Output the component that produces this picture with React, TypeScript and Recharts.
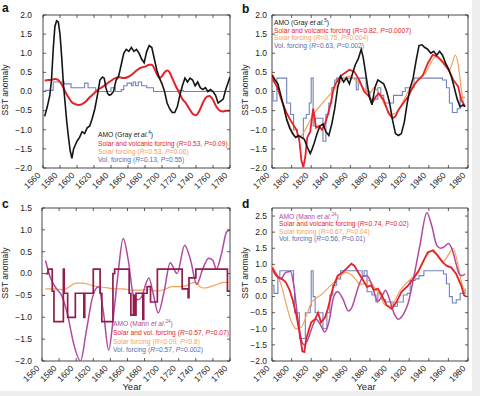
import React from 'react'
import { LineChart, Line, XAxis, YAxis, ReferenceArea } from 'recharts'

type Pt = [number, number]

// panel a, 1560-1780
const aAmo: Pt[] = [
  [1562, -0.65], [1565, -0.4], [1568, -0.1], [1570, 0.3], [1572, 1.1], [1574, 1.7], [1576, 1.85], [1578, 1.82],
  [1580, 1.5], [1582, 0.9], [1584, 0.2], [1586, -0.3], [1588, -0.8], [1590, -1.2], [1592, -1.55], [1594, -1.75],
  [1596, -1.5], [1598, -1.4], [1600, -1.3], [1603, -1.2], [1606, -1.05], [1609, -1.1], [1612, -0.95], [1615, -0.9],
  [1618, -0.7], [1621, -0.45], [1624, -0.1], [1627, 0.3], [1630, 0.38], [1632, 0.35], [1634, 0.1], [1636, -0.05],
  [1638, -0.1], [1640, -0.08], [1643, 0.0], [1646, 0.3], [1649, 0.4], [1652, 0.7], [1655, 1.0], [1658, 1.1],
  [1661, 1.05], [1664, 1.15], [1667, 1.05], [1670, 1.1], [1673, 1.0], [1676, 0.85], [1679, 0.75], [1682, 1.05],
  [1685, 1.2], [1688, 1.15], [1691, 0.85], [1694, 0.55], [1697, 0.35], [1700, 0.2], [1703, 0.0], [1706, -0.3],
  [1709, -0.45], [1712, -0.55], [1715, -0.55], [1718, -0.4], [1721, -0.1], [1724, 0.15], [1727, 0.35], [1730, 0.25],
  [1733, 0.35], [1736, 0.3], [1739, 0.15], [1742, 0.25], [1745, 0.1], [1748, 0.05], [1751, 0.1], [1754, 0.0],
  [1757, 0.05], [1760, 0.0], [1763, -0.1], [1766, -0.3], [1769, -0.25], [1772, -0.2], [1775, 0.05], [1778, 0.25],
  [1780, 0.38],
]
const aSolVol: Pt[] = [
  [1562, 0.28], [1566, 0.3], [1570, 0.3], [1574, 0.33], [1578, 0.3], [1582, 0.18], [1586, 0.0], [1590, -0.15],
  [1594, -0.28], [1598, -0.33], [1602, -0.35], [1606, -0.33], [1610, -0.27], [1615, -0.15], [1620, -0.05],
  [1625, 0.05], [1630, 0.12], [1635, 0.2], [1640, 0.28], [1645, 0.35], [1650, 0.37], [1655, 0.35], [1660, 0.38],
  [1665, 0.45], [1670, 0.55], [1675, 0.62], [1680, 0.65], [1685, 0.7], [1688, 0.7], [1691, 0.6], [1694, 0.45],
  [1697, 0.35], [1700, 0.4], [1703, 0.5], [1706, 0.55], [1709, 0.5], [1712, 0.35], [1716, 0.15], [1720, -0.02],
  [1724, -0.2], [1728, -0.3], [1732, -0.45], [1736, -0.58], [1740, -0.62], [1744, -0.5], [1748, -0.3],
  [1752, -0.15], [1756, -0.12], [1760, -0.22], [1764, -0.4], [1768, -0.5], [1772, -0.52], [1776, -0.5], [1780, -0.5],
]
const aVol: Pt[] = [
  [1562, 0.03], [1572, 0.25], [1585, 0.2], [1593, 0.1], [1609, 0.22], [1613, 0.1], [1622, 0.0], [1640, 0.1],
  [1645, 0.0], [1652, 0.05], [1655, 0.15], [1659, 0.22], [1664, 0.15], [1666, 0.25], [1669, 0.15], [1672, 0.25],
  [1676, 0.15], [1682, 0.1], [1690, 0.0], [1720, 0.03], [1725, 0.0], [1780, 0.0],
]

// panel b, 1780-1980
const bAmo: Pt[] = [
  [1780, 0.43], [1783, 0.3], [1786, 0.2], [1789, -0.1], [1792, -0.4], [1795, -0.74], [1798, -0.95], [1801, -1.1],
  [1804, -1.2], [1807, -1.15], [1810, -1.2], [1813, -1.25], [1816, -1.45], [1819, -1.62], [1821, -1.5],
  [1823, -1.35], [1826, -1.1], [1829, -0.9], [1832, -0.85], [1835, -1.05], [1838, -1.15], [1841, -0.85],
  [1844, -0.45], [1847, 0.1], [1850, 0.4], [1853, 0.25], [1856, 0.35], [1859, 0.2], [1862, 0.45], [1865, 0.7],
  [1868, 0.85], [1871, 1.1], [1873, 0.9], [1876, 0.4], [1879, -0.1], [1882, -0.35], [1885, 0.1], [1888, 0.3],
  [1891, 0.25], [1894, 0.2], [1897, 0.0], [1900, -0.3], [1903, -0.75], [1906, -1.1], [1909, -1.15], [1912, -1.1],
  [1915, -0.8], [1918, -0.3], [1921, 0.1], [1924, 0.35], [1927, 0.8], [1930, 1.2], [1933, 1.22], [1936, 1.15],
  [1939, 1.1], [1942, 1.0], [1945, 1.05], [1948, 0.95], [1951, 1.05], [1954, 0.95], [1957, 0.75], [1960, 0.6],
  [1963, 0.4], [1966, 0.1], [1969, -0.2], [1972, -0.4], [1975, -0.35], [1977, -0.4],
]
const bSolVol: Pt[] = [
  [1780, 0.35], [1785, 0.13], [1790, -0.25], [1795, -0.57], [1800, -0.8], [1805, -1.0], [1808, -1.3], [1810, -1.8],
  [1812, -1.98], [1814, -1.7], [1816, -1.2], [1819, -1.05], [1822, -0.45], [1825, -0.95], [1828, -0.9],
  [1831, -1.0], [1834, -0.85], [1837, -0.6], [1840, -0.3], [1843, 0.1], [1846, 0.25], [1850, 0.4], [1854, 0.48],
  [1859, 0.57], [1864, 0.52], [1869, 0.3], [1874, 0.0], [1879, -0.13], [1882, -0.3], [1886, -0.13], [1889, -0.05],
  [1894, -0.22], [1899, -0.57], [1903, -0.7], [1906, -0.65], [1909, -0.48], [1914, -0.3], [1919, -0.13],
  [1924, 0.13], [1929, 0.3], [1934, 0.43], [1939, 0.74], [1944, 0.96], [1949, 0.91], [1955, 0.74], [1960, 0.57],
  [1965, 0.3], [1970, 0.13], [1973, -0.22], [1977, -0.39],
]
const bSol: Pt[] = [
  [1780, 0.5], [1785, 0.2], [1790, -0.25], [1795, -0.7], [1800, -1.0], [1805, -1.2], [1810, -1.15], [1815, -0.95],
  [1820, -0.7], [1825, -0.5], [1830, -0.35], [1835, -0.2], [1840, -0.05], [1845, 0.1], [1850, 0.25], [1855, 0.38],
  [1860, 0.4], [1865, 0.3], [1870, 0.2], [1875, 0.05], [1880, -0.05], [1884, 0.1], [1888, 0.0], [1892, -0.2],
  [1897, -0.45], [1902, -0.6], [1907, -0.55], [1912, -0.35], [1917, -0.1], [1922, 0.15], [1927, 0.25],
  [1932, 0.35], [1937, 0.5], [1942, 0.75], [1947, 0.9], [1952, 0.85], [1957, 0.7], [1961, 0.55], [1964, 0.75],
  [1967, 0.95], [1970, 0.7], [1973, 0.1], [1976, -0.4],
]
const bVol: Pt[] = [
  [1780, -0.05], [1781, -0.25], [1785, 0.35], [1795, -0.3], [1799, -0.6], [1802, -1.0], [1806, -1.2], [1812, -0.7],
  [1815, -0.6], [1818, -0.3], [1820, 0.35], [1822, -0.9], [1824, -0.7], [1832, -1.3], [1835, -0.6], [1838, -0.3],
  [1841, 0.1], [1844, 0.3], [1846, 0.35], [1866, 0.05], [1868, 0.35], [1876, 0.0], [1880, -0.2], [1888, 0.1],
  [1891, -0.1], [1894, -0.3], [1904, -0.1], [1913, 0.0], [1916, 0.1], [1925, 0.35], [1954, 0.3], [1958, 0.1],
  [1961, -0.3], [1964, -0.55], [1969, -0.45], [1972, -0.15], [1977, -0.15],
]

// panel c, 1560-1780
const cAmo: Pt[] = [
  [1564, 0.3], [1570, -0.1], [1577, -0.35], [1583, -0.5], [1590, -0.95], [1597, -1.6], [1605, -2.0], [1612, -1.3],
  [1619, -0.55], [1626, -0.3], [1632, -0.9], [1638, -1.75], [1644, -0.9], [1649, 0.0], [1655, 0.8], [1661, 0.3],
  [1667, -0.5], [1672, -0.6], [1676, -0.55], [1685, -0.1], [1690, -0.45], [1696, -0.9], [1703, -0.4], [1710, 0.25],
  [1718, 0.0], [1727, 0.65], [1734, 0.3], [1741, -0.25], [1748, 0.1], [1755, 0.35], [1760, 0.3], [1764, 0.1],
  [1770, 0.45], [1776, 0.95], [1780, 1.0],
]
const cSolVol: Pt[] = [
  [1564, 0.0], [1567, 0.1], [1572, -0.4], [1574, -1.1], [1585, 0.1], [1586, -0.45], [1590, -1.0], [1599, -0.45],
  [1609, -1.0], [1610, -0.45], [1620, 0.1], [1628, -0.45], [1630, -1.1], [1643, 0.0], [1645, 0.1], [1662, -0.45],
  [1664, -0.95], [1667, -0.5], [1669, -0.95], [1670, -0.45], [1678, -1.05], [1679, -0.45], [1683, -0.3],
  [1687, -0.65], [1695, 0.1], [1724, -0.35], [1731, -0.55], [1732, -0.1], [1740, 0.1], [1777, -0.4], [1780, -0.4],
]
const cSol: Pt[] = [
  [1564, -0.35], [1575, -0.35], [1585, -0.37], [1592, -0.3], [1600, -0.22], [1607, -0.22], [1615, -0.25],
  [1625, -0.3], [1635, -0.32], [1645, -0.35], [1655, -0.35], [1665, -0.38], [1675, -0.38], [1685, -0.37],
  [1695, -0.4], [1705, -0.35], [1712, -0.3], [1720, -0.3], [1728, -0.28], [1735, -0.22], [1740, -0.2],
  [1745, -0.3], [1750, -0.33], [1757, -0.3], [1765, -0.25], [1772, -0.2], [1780, -0.2],
]

// panel d, 1780-1980
const dAmo: Pt[] = [
  [1780, 0.9], [1784, 0.7], [1789, 0.55], [1794, 0.75], [1799, 0.78], [1802, 0.4], [1806, -0.6], [1810, -1.35],
  [1813, -1.5], [1817, -1.3], [1821, -0.95], [1825, -0.7], [1829, -0.85], [1834, -1.1], [1838, -0.8], [1843, 0.0],
  [1847, 0.15], [1852, -0.05], [1858, -0.45], [1862, -0.3], [1867, 0.2], [1873, 0.62], [1877, 0.65], [1882, 0.35],
  [1888, -0.15], [1892, 0.0], [1896, 0.2], [1900, -0.1], [1905, -0.55], [1909, -0.7], [1914, -0.55], [1919, -0.2],
  [1924, 0.5], [1931, 1.6], [1938, 2.6], [1943, 2.2], [1948, 1.6], [1952, 1.5], [1956, 1.55], [1960, 1.65],
  [1964, 1.45], [1968, 1.0], [1971, 0.7], [1974, 0.65], [1977, 0.7],
]
const dSolVol: Pt[] = [
  [1780, 0.9], [1783, 0.7], [1786, 0.6], [1790, 0.55], [1794, 0.45], [1798, 0.2], [1801, -0.1], [1805, -0.6],
  [1808, -1.1], [1811, -1.7], [1813, -1.72], [1815, -1.3], [1817, -1.1], [1820, -0.8], [1824, -0.7], [1827, -0.5],
  [1830, -0.8], [1834, -0.65], [1837, -0.38], [1842, 0.25], [1847, 0.65], [1852, 0.75], [1857, 0.9], [1861, 1.02],
  [1864, 0.96], [1869, 0.7], [1874, 0.45], [1877, 0.3], [1881, 0.35], [1884, 0.2], [1888, 0.25], [1892, 0.04],
  [1897, -0.27], [1902, -0.38], [1907, -0.17], [1912, 0.14], [1919, 0.35], [1924, 0.55], [1929, 0.76],
  [1934, 1.07], [1939, 1.38], [1944, 1.43], [1949, 1.28], [1954, 1.07], [1958, 0.96], [1963, 0.9], [1968, 0.7],
  [1973, 0.35], [1976, 0.04], [1978, 0.0],
]
const dSol: Pt[] = [
  [1780, 0.95], [1785, 0.7], [1790, 0.3], [1795, -0.3], [1800, -0.8], [1805, -1.0], [1810, -0.95], [1815, -0.6],
  [1820, -0.2], [1825, -0.05], [1830, 0.05], [1835, 0.2], [1840, 0.35], [1845, 0.5], [1850, 0.65], [1855, 0.75],
  [1860, 0.7], [1865, 0.55], [1870, 0.38], [1875, 0.4], [1879, 0.5], [1884, 0.3], [1890, 0.05], [1895, -0.25],
  [1900, -0.3], [1905, -0.15], [1910, 0.15], [1915, 0.35], [1920, 0.5], [1925, 0.65], [1930, 0.85], [1935, 1.15],
  [1940, 1.35], [1945, 1.45], [1950, 1.2], [1955, 1.1], [1960, 1.3], [1965, 1.5], [1969, 1.1], [1973, 0.5],
  [1977, 0.1],
]
const dVol: Pt[] = [
  [1780, 0.35], [1782, 0.1], [1786, 0.6], [1788, 0.8], [1802, 0.3], [1803, -0.5], [1808, -1.3], [1814, -0.5],
  [1819, -0.3], [1820, 0.8], [1822, 0.0], [1824, -0.5], [1832, -1.0], [1836, -0.5], [1839, 0.05], [1842, 0.35],
  [1846, 0.55], [1850, 0.8], [1872, 0.65], [1874, 0.8], [1877, 0.15], [1882, 0.05], [1886, -0.17], [1888, 0.1],
  [1892, -0.1], [1896, -0.17], [1904, -0.3], [1908, -0.17], [1914, 0.05], [1918, 0.1], [1921, 0.5], [1926, 0.55],
  [1930, 0.65], [1935, 0.8], [1955, 0.7], [1958, 0.4], [1961, 0.0], [1964, -0.2], [1968, -0.1], [1972, 0.1],
  [1977, 0.25],
]

const earlyTicks = [1560, 1580, 1600, 1620, 1640, 1660, 1680, 1700, 1720, 1740, 1760, 1780]
const lateTicks = [1780, 1800, 1820, 1840, 1860, 1880, 1900, 1920, 1940, 1960, 1980]
const yTicksAB = [-2, -1.5, -1, -0.5, 0, 0.5, 1, 1.5, 2]
const yTicksC = [-2, -1.5, -1, -0.5, 0, 0.5, 1, 1.5]
const yTicksD = [-2, -1.5, -1, -0.5, 0, 0.5, 1, 1.5, 2, 2.5]

const FONT = '"Liberation Sans", Arial, Helvetica, sans-serif'
const BLACK = '#151515'
const RED = '#e4222c'
const ORANGE = '#f4a25e'
const BLUE = '#7282bb'
const PURPLE = '#b04a9f'
const MAROON = '#921d4b'
const VOLTXT = '#5a6aa8'
const TXT = '#222'
const FRAME = '#333'

const rows = (pts: Pt[]) => pts.map(([year, v]) => ({ year, v }))
const fmt = (v: number) => v.toFixed(1).replace('-', '\u2212')

const XM = 8 // gap between plot bottom and slanted label anchor

// slanted year label + inward tick marks at bottom and top of the frame
function XTick(props: any) {
  const { x, y, payload, plotTop } = props
  const base = y - XM
  const ax = x - 2
  return (
    <g>
      <line x1={x} x2={x} y1={base} y2={base - 3} stroke={FRAME} strokeWidth={0.8} />
      <line x1={x} x2={x} y1={plotTop} y2={plotTop + 3} stroke={FRAME} strokeWidth={0.8} />
      <text x={ax} y={y} transform={`rotate(-45 ${ax} ${y})`} textAnchor="end" fontSize={8.5} fill={TXT} fontFamily={FONT}>
        {payload.value}
      </text>
    </g>
  )
}

// value label + inward tick marks on the left and right of the frame
function YTick(props: any) {
  const { x, y, payload, gap, plotRight } = props
  const edge = x + gap
  return (
    <g>
      <line x1={edge} x2={edge + 3} y1={y} y2={y} stroke={FRAME} strokeWidth={0.8} />
      <line x1={plotRight - 3} x2={plotRight} y1={y} y2={y} stroke={FRAME} strokeWidth={0.8} />
      <text x={x} y={y} dy="0.33em" textAnchor="end" fontSize={8.5} fill={TXT} fontFamily={FONT}>
        {fmt(payload.value)}
      </text>
    </g>
  )
}

type Series = { pts: Pt[]; color: string; width: number; kind?: 'stepAfter' | 'monotone' | 'linear' }

function Panel(p: {
  left: number; top: number; w: number; h: number
  margin: { top: number; right: number; bottom: number; left: number }
  xDomain: [number, number]; xTicks: number[]
  yDomain: [number, number]; yTicks: number[]
  xh: number; gap: number; series: Series[]
}) {
  const plotTop = p.margin.top
  const plotRight = p.w - p.margin.right
  return (
    <div style={{ position: 'absolute', left: p.left, top: p.top }}>
      <LineChart width={p.w} height={p.h} margin={p.margin}>
        <XAxis type="number" dataKey="year" domain={p.xDomain} ticks={p.xTicks} height={p.xh}
          allowDataOverflow interval={0} axisLine={false} tickLine={false} tickSize={0} tickMargin={XM}
          tick={<XTick plotTop={plotTop} />} />
        <YAxis type="number" domain={p.yDomain} ticks={p.yTicks} width={30} allowDataOverflow
          interval={0} axisLine={false} tickLine={false} tickSize={0} tickMargin={p.gap}
          tick={<YTick gap={p.gap} plotRight={plotRight} />} />
        {p.series.map((s, i) => (
          <Line key={i} data={rows(s.pts)} dataKey="v" type={s.kind ?? 'linear'}
            stroke={s.color} strokeWidth={s.width} dot={false} activeDot={false} isAnimationActive={false} />
        ))}
        <ReferenceArea x1={p.xDomain[0]} x2={p.xDomain[1]} y1={p.yDomain[0]} y2={p.yDomain[1]}
          fill="none" fillOpacity={0} stroke={FRAME} strokeWidth={0.9} />
      </LineChart>
    </div>
  )
}

function Stat({ x, y, color, label, r, p }: { x: number; y: number; color: string; label: string; r: string; p: string }) {
  return (
    <text x={x} y={y} fill={color}>
      {label} (<tspan fontStyle="italic">R</tspan>={r}, <tspan fontStyle="italic">P</tspan>={p})
    </text>
  )
}

function Amo({ x, y, color, who, note }: { x: number; y: number; color: string; who: string; note: string }) {
  return (
    <text x={x} y={y} fill={color}>
      AMO ({who} <tspan fontStyle="italic">et al.</tspan>
      <tspan fontSize={4.5} dy={-2.6}>{note}</tspan>
      <tspan dy={2.6}>)</tspan>
    </text>
  )
}

function Overlay() {
  return (
    <svg width={480} height={396} style={{ position: 'absolute', left: 0, top: 0, pointerEvents: 'none' }}
      fontFamily={FONT}>
      <g fontWeight="bold" fontSize={12} fill="#111">
        <text x={2} y={12}>a</text>
        <text x={242} y={13}>b</text>
        <text x={2} y={208}>c</text>
        <text x={242} y={208}>d</text>
      </g>
      <g fontSize={8.5} fill={TXT} textAnchor="middle">
        <text transform="translate(8 90) rotate(-90)">SST anomaly</text>
        <text transform="translate(248 90) rotate(-90)">SST anomaly</text>
        <text transform="translate(8 273) rotate(-90)">SST anomaly</text>
        <text transform="translate(248 273) rotate(-90)">SST anomaly</text>
      </g>
      <g fontSize={9.5} fill={TXT} textAnchor="middle">
        <text x={132} y={390}>Year</text>
        <text x={366} y={390}>Year</text>
      </g>
      <g fontSize={6.7}>
        <Amo x={98} y={137} color={BLACK} who="Gray" note="4" />
        <Stat x={98} y={145.5} color={RED} label="Solar and volcanic forcing" r="0.53" p="0.09" />
        <Stat x={98} y={153.5} color={ORANGE} label="Solar forcing" r="0.53" p="0.06" />
        <Stat x={98} y={161.5} color={VOLTXT} label="Vol. forcing" r="0.13" p="0.55" />

        <Amo x={274} y={25} color={BLACK} who="Gray" note="5" />
        <Stat x={274} y={32.5} color={RED} label="Solar and volcanic forcing" r="0.82" p="0.0007" />
        <Stat x={274} y={40} color={ORANGE} label="Solar forcing" r="0.75" p="0.004" />
        <Stat x={274} y={47.5} color={VOLTXT} label="Vol. forcing" r="0.63" p="0.002" />

        <Amo x={113} y={325.5} color={PURPLE} who="Mann" note="24" />
        <Stat x={113} y={335} color={RED} label="Solar and vol. forcing" r="0.57" p="0.07" />
        <Stat x={113} y={343.5} color={ORANGE} label="Solar forcing" r="0.09" p="0.8" />
        <Stat x={113} y={352} color={VOLTXT} label="Vol. forcing" r="0.57" p="0.002" />

        <Amo x={279} y={218.5} color={PURPLE} who="Mann" note="24" />
        <Stat x={279} y={226} color={RED} label="Solar and volcanic forcing" r="0.74" p="0.02" />
        <Stat x={279} y={233.5} color={ORANGE} label="Solar forcing" r="0.67" p="0.04" />
        <Stat x={279} y={241} color={VOLTXT} label="Vol. forcing" r="0.56" p="0.01" />
      </g>
    </svg>
  )
}

export default function App() {
  return (
    <div style={{ position: 'absolute', left: 0, top: 0, width: 480, height: 396, background: '#fff', overflow: 'hidden' }}>
      <div style={{ position: 'absolute', left: 472, top: 0, width: 8, height: 396, background: '#eeeeee' }} />
      <div style={{ position: 'absolute', left: 0, top: 391, width: 480, height: 5, background: '#eeeeee' }} />
      <Panel left={0} top={0} w={240} h={196} margin={{ top: 15, right: 10, bottom: 0, left: 13 }} gap={11}
        xDomain={[1560, 1780]} xTicks={earlyTicks} yDomain={[-2, 2]} yTicks={yTicksAB} xh={28}
        series={[
          { pts: aVol, color: BLUE, width: 1.1, kind: 'stepAfter' },
          { pts: aSolVol, color: RED, width: 2, kind: 'monotone' },
          { pts: aAmo, color: BLACK, width: 1.6 },
        ]} />
      <Panel left={240} top={0} w={240} h={196} margin={{ top: 15, right: 12, bottom: 0, left: 2 }} gap={5}
        xDomain={[1780, 1980]} xTicks={lateTicks} yDomain={[-2, 2]} yTicks={yTicksAB} xh={28}
        series={[
          { pts: bVol, color: BLUE, width: 1.1, kind: 'stepAfter' },
          { pts: bSol, color: ORANGE, width: 1.2, kind: 'monotone' },
          { pts: bSolVol, color: RED, width: 1.8 },
          { pts: bAmo, color: BLACK, width: 1.6 },
        ]} />
      <Panel left={0} top={196} w={240} h={200} margin={{ top: 12, right: 10, bottom: 0, left: 12 }} gap={10}
        xDomain={[1560, 1780]} xTicks={earlyTicks} yDomain={[-2, 1.5]} yTicks={yTicksC} xh={35}
        series={[
          { pts: cSol, color: ORANGE, width: 1.2, kind: 'monotone' },
          { pts: cAmo, color: PURPLE, width: 1.5, kind: 'monotone' },
          { pts: cSolVol, color: MAROON, width: 1.7, kind: 'stepAfter' },
        ]} />
      <Panel left={240} top={196} w={240} h={200} margin={{ top: 12, right: 12, bottom: 0, left: 2 }} gap={5}
        xDomain={[1780, 1980]} xTicks={lateTicks} yDomain={[-2, 2.75]} yTicks={yTicksD} xh={35}
        series={[
          { pts: dVol, color: BLUE, width: 1.1, kind: 'stepAfter' },
          { pts: dSol, color: ORANGE, width: 1.2, kind: 'monotone' },
          { pts: dAmo, color: PURPLE, width: 1.5, kind: 'monotone' },
          { pts: dSolVol, color: RED, width: 1.8 },
        ]} />
      <Overlay />
    </div>
  )
}
